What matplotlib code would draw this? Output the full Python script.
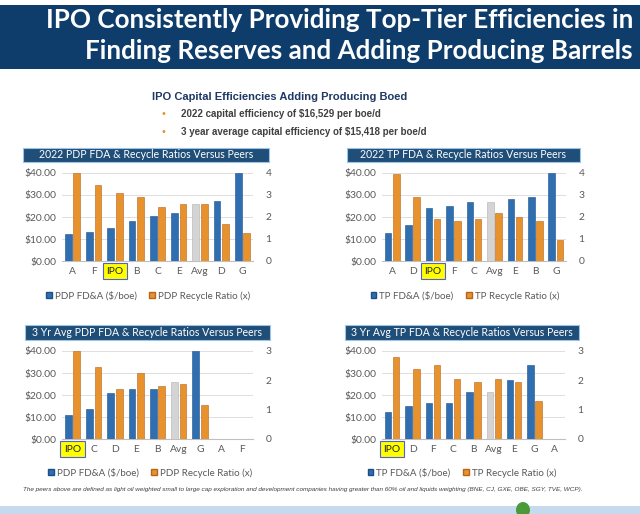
import numpy as np
import matplotlib
matplotlib.use("Agg")
import matplotlib.pyplot as plt
from matplotlib.patches import Rectangle, Patch, Ellipse

# --- data ---
cats_pdp22 = ["A", "F", "IPO", "B", "C", "E", "Avg", "D", "G"]
fda_pdp22 = [12.1, 13.0, 14.8, 18.1, 20.5, 21.9, 26.1, 27.2, 40.0]
rr_pdp22 = [4.0, 3.44, 3.1, 2.91, 2.46, 2.57, 2.61, 1.69, 1.27]

cats_tp22 = ["A", "D", "IPO", "F", "C", "Avg", "E", "B", "G"]
fda_tp22 = [12.5, 16.3, 24.2, 24.8, 26.6, 26.6, 28.2, 29.1, 40.0]
rr_tp22 = [3.97, 2.91, 1.9, 1.81, 1.9, 2.2, 2.0, 1.81, 0.95]

cats_pdp3 = ["IPO", "C", "D", "E", "B", "Avg", "G", "A", "F"]
fda_pdp3 = [10.9, 13.6, 21.0, 22.9, 22.9, 26.1, 40.0, 0.0, 0.0]
rr_pdp3 = [3.0, 2.47, 1.70, 2.24, 1.81, 1.88, 1.17, 0.0, 0.0]

cats_tp3 = ["IPO", "D", "F", "C", "B", "Avg", "E", "G", "A"]
fda_tp3 = [12.5, 15.1, 16.3, 16.5, 21.4, 21.4, 26.6, 33.7, 0.0]
rr_tp3 = [2.81, 2.40, 2.51, 2.05, 1.94, 2.03, 1.94, 1.30, 0.0]

W, H = 640, 514
BLUE = "#2f6eb0"
ORANGE = "#e8922e"
GREY = "#d4d4d4"
NAVY = "#1f4e79"
TXT = "#595959"
CHART_FONT = "Lato"


def fbox(x0, y0, x1, y1):
    # pixel box (top-left origin) -> figure fraction rect
    return [x0 / W, 1 - y1 / H, (x1 - x0) / W, (y1 - y0) / H]


fig = plt.figure(figsize=(6.4, 5.14), dpi=100)
fig.patch.set_facecolor("white")

# header banner
fig.patches.append(Rectangle((0, 1 - 69 / H), 1, 64 / H, transform=fig.transFigure,
                             facecolor="#0f3d6b", edgecolor="none"))
fig.text(633 / W, 1 - 20 / H, "IPO Consistently Providing Top-Tier Efficiencies in",
         ha="right", va="center", color="white", fontsize=18.7, fontweight="bold", family="Lato")
fig.text(633 / W, 1 - 51 / H, "Finding Reserves and Adding Producing Barrels",
         ha="right", va="center", color="white", fontsize=18.7, fontweight="bold", family="Lato")

fig.text(152 / W, 1 - 97 / H, "IPO Capital Efficiencies Adding Producing Boed",
         ha="left", va="center", color="#1f3864", fontsize=8, fontweight="bold",
         family="Liberation Sans")
bullets = ["2022 capital efficiency of $16,529 per boe/d",
           "3 year average capital efficiency of $15,418 per boe/d"]
for i, b in enumerate(bullets):
    yy = 1 - (114 + 18 * i) / H
    fig.text(163 / W, yy, "\u2022", ha="center", va="center", color="#e8922e", fontsize=7)
    fig.text(181 / W, yy, b, ha="left", va="center", color="#404040", fontsize=7,
             fontweight="bold", family="Liberation Sans")


def panel(rect, title_box, title, cats, fda, rr, rmax, prefix, leg_y, leg_x):
    ax = fig.add_axes(fbox(*rect))
    x = np.arange(len(cats))
    cols = [GREY if c == "Avg" else BLUE for c in cats]
    edges = ["#b0b0b0" if c == "Avg" else "#1d4f86" for c in cats]
    ax.bar(x - 0.2, fda, width=0.32, color=cols, edgecolor=edges, linewidth=0.4, zorder=3)
    ax.set_ylim(0, 40)
    ax.set_xlim(-0.5, len(cats) - 0.5)
    ax.set_yticks([0, 10, 20, 30, 40])
    ax.set_yticklabels(["$%.2f" % v for v in [0, 10, 20, 30, 40]], family=CHART_FONT)
    ax.grid(axis="y", color="#d9d9d9", linewidth=0.6, zorder=0)
    ax.set_axisbelow(True)
    for s in ["top", "right", "left"]:
        ax.spines[s].set_visible(False)
    ax.spines["bottom"].set_color("#bfbfbf")
    ax.tick_params(axis="both", length=0, labelsize=7.4, colors=TXT, pad=4)
    ax.set_xticks(x)
    ax.set_xticklabels(cats, family=CHART_FONT)
    for lbl in ax.get_xticklabels():
        if lbl.get_text() == "IPO":
            lbl.set_bbox(dict(facecolor="#ffff00", edgecolor="#5060d0", linewidth=0.8,
                              boxstyle="square,pad=0.35"))
            lbl.set_color("#222222")

    ax2 = ax.twinx()
    ax2.bar(x + 0.2, rr, width=0.32, color=ORANGE, edgecolor="#b5651d", linewidth=0.4, zorder=3)
    ax2.set_ylim(0, rmax)
    ax2.set_yticks(range(0, rmax + 1))
    ax2.set_yticklabels([str(v) for v in range(0, rmax + 1)], family=CHART_FONT)
    for s in ["top", "right", "left", "bottom"]:
        ax2.spines[s].set_visible(False)
    ax2.tick_params(axis="y", length=0, labelsize=7.4, colors=TXT, pad=9)

    # title box
    x0, y0, x1, y1 = title_box
    fig.patches.append(Rectangle((x0 / W, 1 - y1 / H), (x1 - x0) / W, (y1 - y0) / H,
                                 transform=fig.transFigure, facecolor=NAVY,
                                 edgecolor="#9dc3e6", linewidth=0.8))
    fig.text((x0 + x1) / 2 / W, 1 - (y0 + y1) / 2 / H, title, ha="center", va="center",
             color="white", fontsize=7.6, family=CHART_FONT)

    handles = [Patch(facecolor=BLUE, edgecolor="#1d4f86"),
               Patch(facecolor=ORANGE, edgecolor="#b5651d")]
    labels = [prefix + " FD&A ($/boe)", prefix + " Recycle Ratio (x)"]
    leg = fig.legend(handles, labels, loc="center", bbox_to_anchor=(leg_x / W, 1 - leg_y / H),
                     ncol=2, frameon=False, prop={"family": CHART_FONT, "size": 7.0},
                     handlelength=0.6, handleheight=0.6, handletextpad=0.3, columnspacing=1.3)
    for t in leg.get_texts():
        t.set_color(TXT)


panel((62, 173, 253, 261), (23, 148, 269, 162), "2022 PDP FDA & Recycle Ratios Versus Peers",
      cats_pdp22, fda_pdp22, rr_pdp22, 4, "PDP", 296, 148)
panel((382, 173, 566, 261), (347, 148, 580, 162), "2022 TP FDA & Recycle Ratios Versus Peers",
      cats_tp22, fda_tp22, rr_tp22, 4, "TP", 296, 465)
panel((62, 351, 253, 439), (25, 325, 270, 340), "3 Yr Avg PDP FDA & Recycle Ratios Versus Peers",
      cats_pdp3, fda_pdp3, rr_pdp3, 3, "PDP", 473, 150)
panel((382, 351, 565, 439), (345, 325, 579, 340), "3 Yr Avg TP FDA & Recycle Ratios Versus Peers",
      cats_tp3, fda_tp3, rr_tp3, 3, "TP", 473, 462)

fig.text(23 / W, 1 - 490 / H,
         "The peers above are defined as light oil weighted small to large cap exploration and "
         "development companies having greater than 60% oil and liquids weighting "
         "(BNE, CJ, GXE, OBE, SGY, TVE, WCP).",
         ha="left", va="center", color="#404040", fontsize=4.63, style="italic",
         family="Liberation Sans")

# bottom band with a bit of the logo peeking in
fig.patches.append(Rectangle((0, 0), 1, 8 / H, transform=fig.transFigure,
                             facecolor="#c5d9ef", edgecolor="none"))
fig.patches.append(Ellipse((523 / W, 4 / H), 14 / W, 16 / H, transform=fig.transFigure,
                           facecolor="#4a9a3a", edgecolor="none"))

fig.savefig("out.png", dpi=100)
